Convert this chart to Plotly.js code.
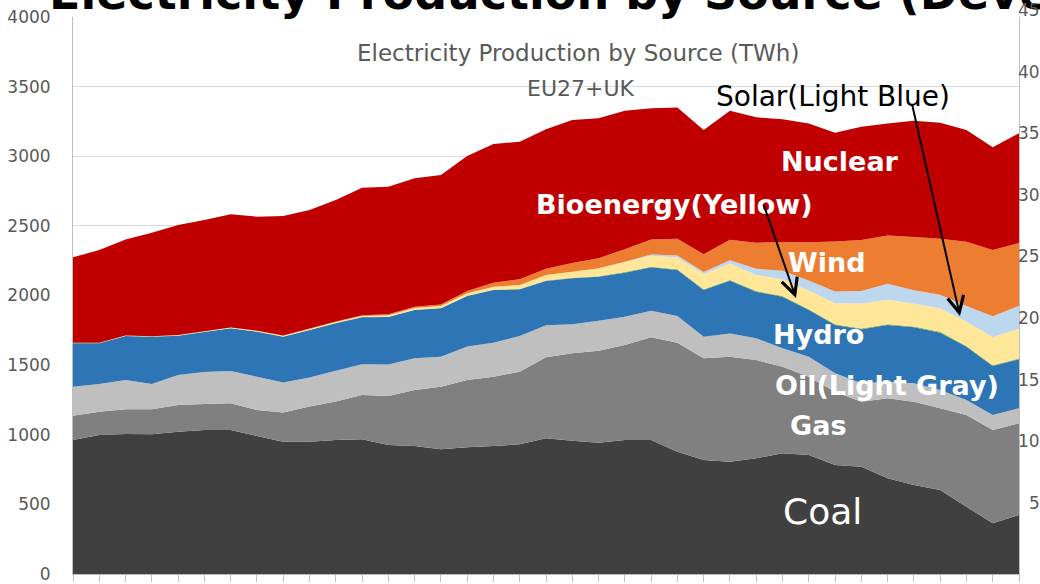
<!DOCTYPE html>
<html>
<head>
<meta charset="utf-8">
<script src="https://cdn.plot.ly/plotly-3.0.1.min.js"></script>
<style>
  html, body { margin: 0; padding: 0; background: #ffffff; }
  #chart { width: 1040px; height: 584px; }
</style>
</head>
<body>
<div id="chart"></div>
<script>
var years = [];
for (var yr = 1985; yr <= 2021; yr++) years.push(yr);

// TWh, EU27+UK
var coal = [962, 998, 1005, 1003, 1022, 1034, 1034, 991, 950, 950, 962, 967, 926, 919, 895, 910, 919, 931, 974, 957, 943, 962, 962, 878, 819, 807, 831, 867, 855, 783, 771, 687, 639, 603, 483, 364, 424];
var gas = [175, 168, 178, 180, 192, 187, 192, 187, 209, 252, 276, 318, 352, 402, 450, 483, 498, 522, 582, 628, 661, 682, 738, 783, 730, 754, 706, 622, 562, 526, 466, 575, 598, 587, 659, 670, 658];
var oil = [208, 198, 210, 181, 215, 230, 232, 239, 217, 210, 222, 221, 227, 228, 216, 240, 244, 256, 230, 208, 215, 204, 191, 192, 155, 167, 156, 132, 144, 132, 133, 119, 132, 131, 107, 108, 108];
var hydro = [312, 293, 316, 340, 282, 287, 306, 323, 328, 340, 340, 337, 341, 347, 347, 363, 378, 335, 318, 330, 316, 316, 311, 330, 335, 378, 334, 370, 335, 347, 387, 407, 403, 412, 383, 352, 352];
var other = [1, 1, 1, 1, 1, 1, 1, 1, 1, 1, 2, 2, 2, 2, 2, 3, 3, 3, 3, 4, 4, 4, 4, 5, 5, 5, 5, 5, 5, 6, 6, 6, 6, 6, 6, 6, 6];
var bioenergy = [2, 2, 3, 3, 4, 4, 5, 5, 6, 7, 7, 8, 10, 12, 14, 17, 21, 28, 40, 44, 56, 71, 80, 85, 110, 118, 115, 120, 135, 150, 180, 175, 162, 170, 174, 200, 213];
var solar = [0, 0, 0, 0, 0, 0, 0, 0, 0, 0, 0, 0, 0, 0, 0, 0, 0, 0, 0, 0, 1, 3, 8, 15, 15, 24, 45, 62, 72, 84, 90, 115, 98, 97, 113, 151, 165];
var wind = [0, 0, 0, 0, 0, 0, 1, 1, 2, 3, 4, 5, 7, 10, 12, 16, 29, 41, 45, 62, 72, 90, 108, 120, 127, 148, 187, 206, 275, 360, 365, 347, 383, 402, 461, 476, 451];
var nuclear = [614, 667, 690, 743, 790, 799, 812, 819, 858, 851, 873, 916, 916, 922, 929, 970, 996, 988, 1001, 1027, 1004, 995, 942, 942, 892, 926, 901, 881, 853, 781, 814, 805, 834, 833, 802, 737, 788];

var seriesNames = ['Coal', 'Gas', 'Oil', 'Hydro', 'Other', 'Bioenergy', 'Solar', 'Wind', 'Nuclear'];
var seriesValues = [coal, gas, oil, hydro, other, bioenergy, solar, wind, nuclear];
var seriesColors = ['#404040', '#808080', '#bfbfbf', '#2e75b6', '#70ad47', '#ffe699', '#bdd7ee', '#ed7d31', '#c00000'];

// tick labels of the chart behind, cut off at the right edge
var rightTicks = [45, 40, 35, 30, 25, 20, 15, 10, 5];

function px2x(px) { return (px - 73) / 946; }
function px2y(py) { return (574 - py) / 557; }

function label(text, px, py, font) {
  return {text: text, xref: 'paper', yref: 'paper', x: px2x(px), y: px2y(py),
          xanchor: 'center', yanchor: 'middle', showarrow: false, font: font};
}

function production_chart(id) {

  var data = seriesNames.map(function (name, k) {
    return {
      x: years,
      y: seriesValues[k],
      name: name,
      type: 'scatter',
      mode: 'none',
      stackgroup: 'one',
      fillcolor: seriesColors[k],
      line: {width: 0},
      hoverinfo: 'skip'
    };
  });

  var whiteBold = {family: 'DejaVu Sans', size: 27, color: '#ffffff'};
  var grayFont = {family: 'DejaVu Sans', size: 23, color: '#595959'};

  var annotations = [
    // big slide title, mostly above the picture
    {text: '<b>Electricity Production by Source (Developed Countries)</b>', xref: 'paper', yref: 'paper',
     x: px2x(47), y: px2y(22), xanchor: 'left', yanchor: 'bottom', showarrow: false,
     font: {family: 'DejaVu Sans', size: 46, color: '#000000'}},
    label('Electricity Production by Source (TWh)', 578, 53, grayFont),
    label('EU27+UK', 581, 88, {family: 'DejaVu Sans', size: 22, color: '#595959'}),
    label('Solar(Light Blue)', 833, 97, {family: 'DejaVu Sans', size: 28, color: '#000000'}),
    label('<b>Nuclear</b>', 840, 162, whiteBold),
    label('<b>Bioenergy(Yellow)</b>', 674, 205, whiteBold),
    label('<b>Wind</b>', 827, 262, whiteBold),
    label('<b>Hydro</b>', 818, 335, whiteBold),
    label('<b>Oil(Light Gray)</b>', 887, 385, whiteBold),
    label('<b>Gas</b>', 818, 425, whiteBold),
    label('Coal', 822, 511, {family: 'DejaVu Sans', size: 36, color: '#ffffff'}),
    // arrows
    {text: '', xref: 'paper', yref: 'paper', x: px2x(796), y: px2y(298), ax: -33, ay: -95,
     showarrow: true, arrowhead: 5, arrowsize: 1.6, arrowwidth: 2, arrowcolor: '#000000', standoff: 0},
    {text: '', xref: 'paper', yref: 'paper', x: px2x(960), y: px2y(316), ax: -48, ay: -212,
     showarrow: true, arrowhead: 5, arrowsize: 1.6, arrowwidth: 2, arrowcolor: '#000000', standoff: 0}
  ];

  rightTicks.forEach(function (v) {
    annotations.push({
      text: String(v), xref: 'paper', yref: 'paper',
      x: px2x(1042), y: px2y(10 + (45 - v) / 5 * 61.6),
      xanchor: 'right', yanchor: 'middle', showarrow: false,
      font: {family: 'DejaVu Sans', size: 17, color: '#595959'}
    });
  });

  var layout = {
    width: 1040,
    height: 584,
    showlegend: false,
    margin: {l: 73, r: 21, t: 17, b: 10, pad: 0},
    paper_bgcolor: '#ffffff',
    plot_bgcolor: '#ffffff',
    xaxis: {
      type: 'linear',
      range: [1985, 2021],
      dtick: 1,
      tick0: 1985,
      ticks: 'outside',
      ticklen: 7,
      tickcolor: '#bfbfbf',
      showticklabels: false,
      showgrid: false,
      zeroline: false,
      showline: true,
      linecolor: '#bfbfbf',
      linewidth: 1
    },
    yaxis: {
      range: [0, 4000],
      dtick: 500,
      tick0: 0,
      ticks: '',
      ticklabelstandoff: 18,
      tickfont: {family: 'DejaVu Sans', size: 17, color: '#595959'},
      showgrid: true,
      gridcolor: '#d9d9d9',
      gridwidth: 1,
      zeroline: false,
      showline: true,
      mirror: true,
      linecolor: '#bfbfbf',
      linewidth: 1
    },
    annotations: annotations
  };

  var config = {staticPlot: true, displayModeBar: false};

  Plotly.newPlot(id, data, layout, config);
}

production_chart('chart');
</script>
</body>
</html>
